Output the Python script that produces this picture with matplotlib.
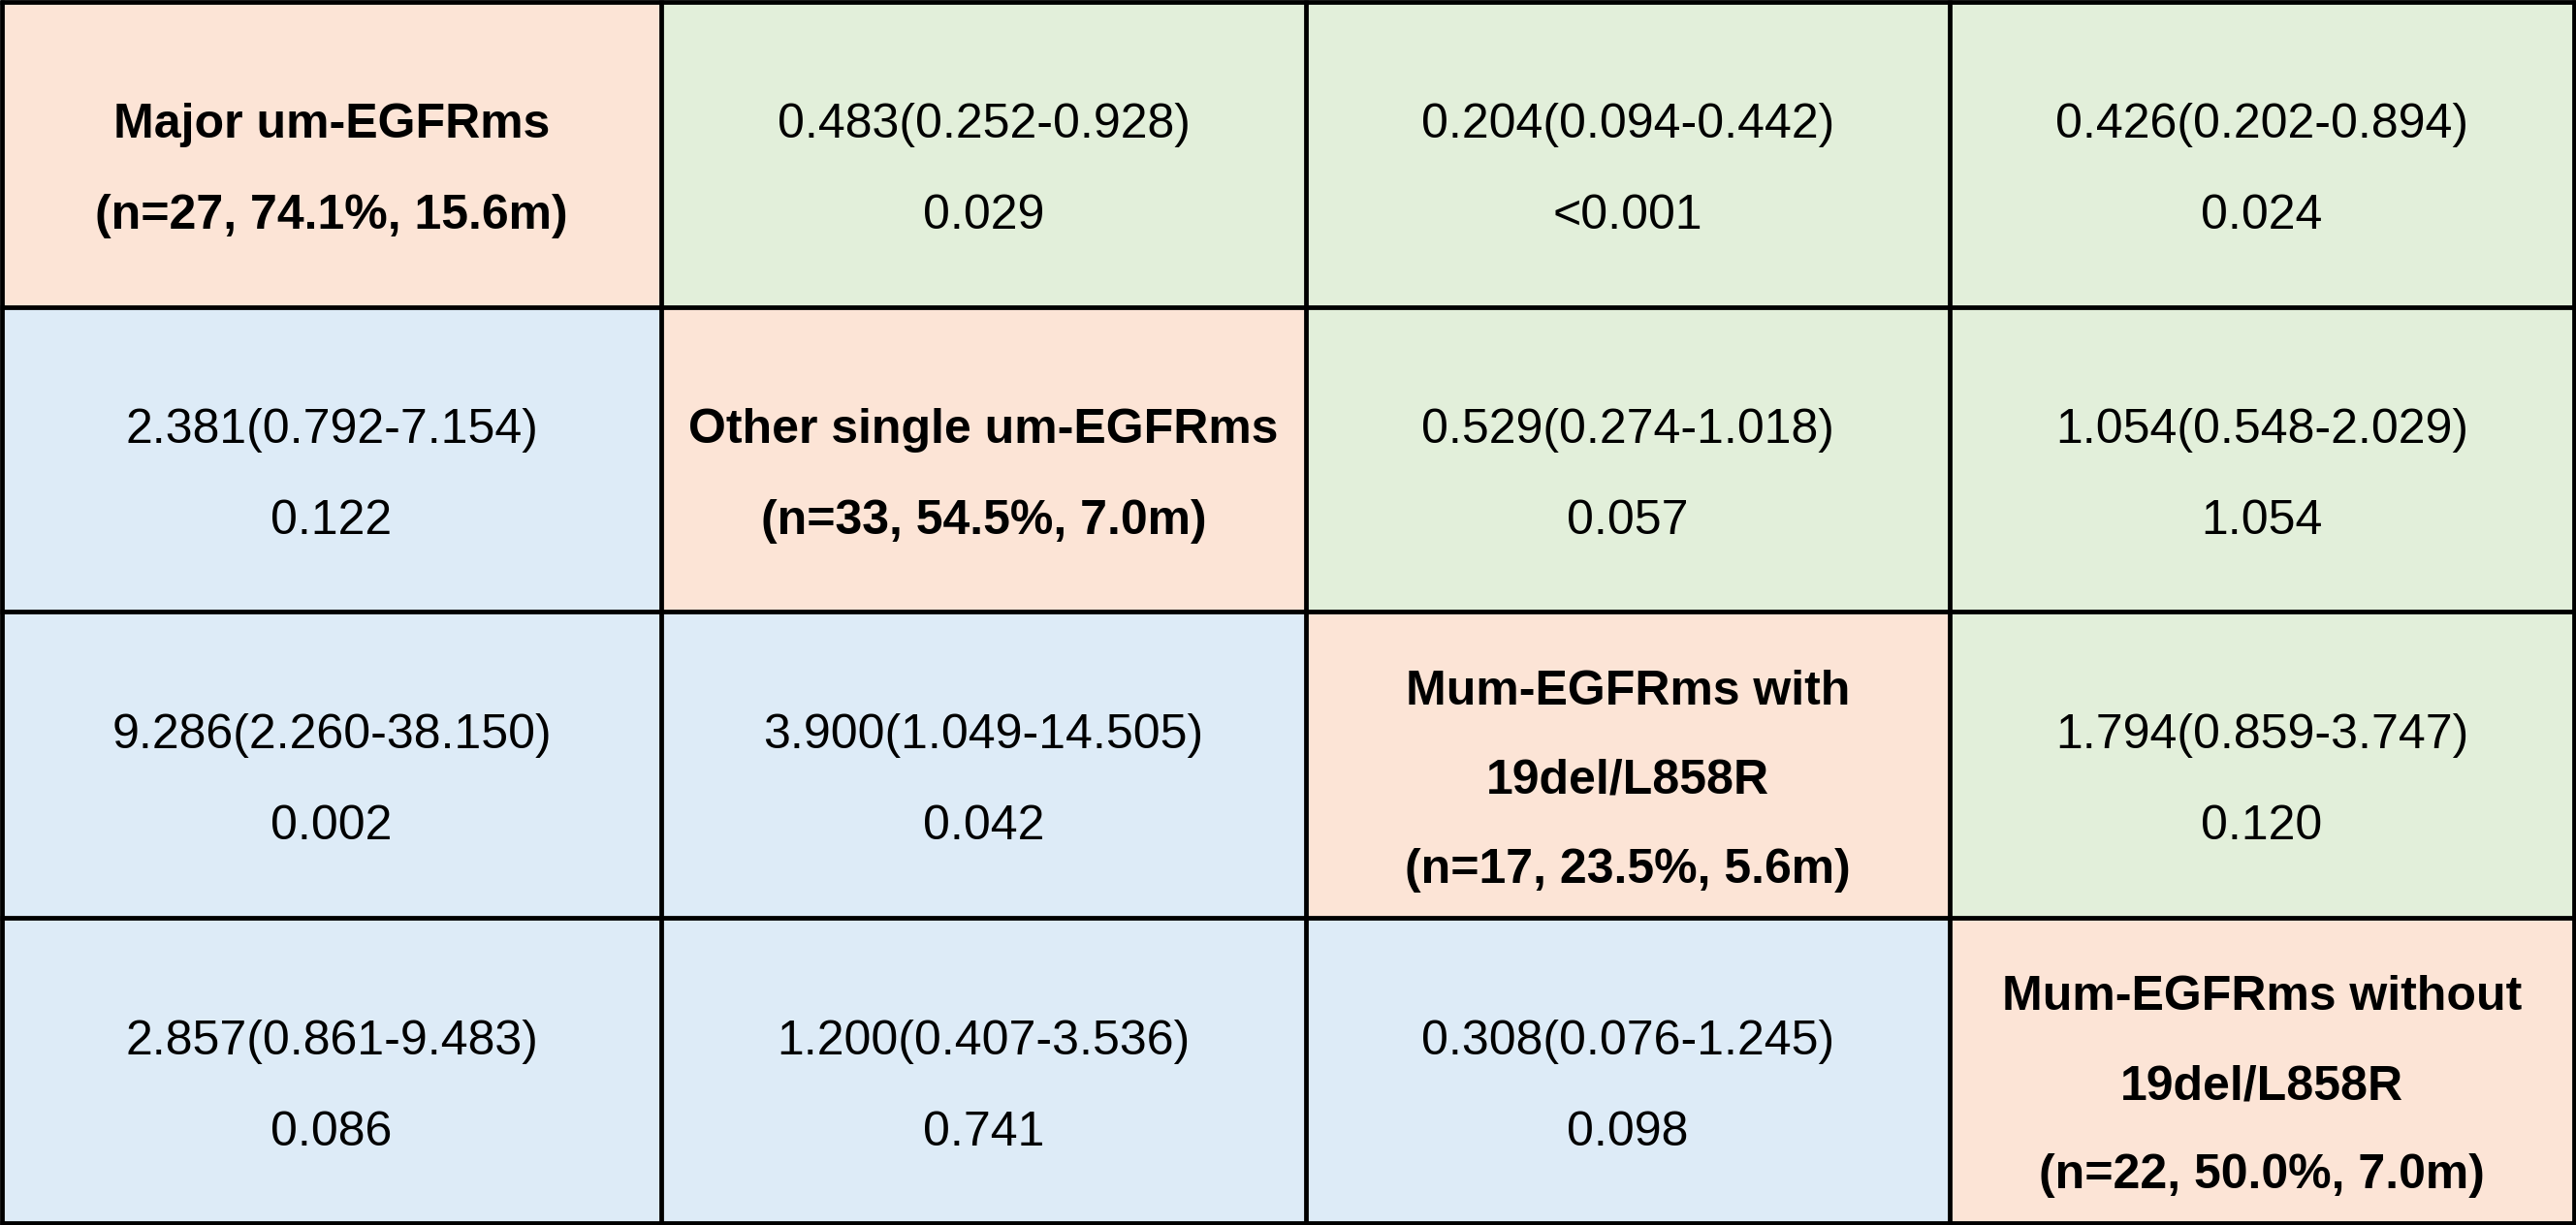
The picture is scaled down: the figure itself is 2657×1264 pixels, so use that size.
import numpy as np
import matplotlib
matplotlib.use('Agg')
import matplotlib.pyplot as plt
from matplotlib.colors import ListedColormap

# group labels shown on the diagonal
group_labels = [
    ['Major um-EGFRms', '(n=27, 74.1%, 15.6m)'],
    ['Other single um-EGFRms', '(n=33, 54.5%, 7.0m)'],
    ['Mum-EGFRms with', '19del/L858R', '(n=17, 23.5%, 5.6m)'],
    ['Mum-EGFRms without', '19del/L858R', '(n=22, 50.0%, 7.0m)'],
]

# hazard ratio (95% CI) for each pair, row vs column
hazard_ratios = [
    [None, '0.483(0.252-0.928)', '0.204(0.094-0.442)', '0.426(0.202-0.894)'],
    ['2.381(0.792-7.154)', None, '0.529(0.274-1.018)', '1.054(0.548-2.029)'],
    ['9.286(2.260-38.150)', '3.900(1.049-14.505)', None, '1.794(0.859-3.747)'],
    ['2.857(0.861-9.483)', '1.200(0.407-3.536)', '0.308(0.076-1.245)', None],
]

# p values for each pair
p_values = [
    [None, '0.029', '<0.001', '0.024'],
    ['0.122', None, '0.057', '1.054'],
    ['0.002', '0.042', None, '0.120'],
    ['0.086', '0.741', '0.098', None],
]

# layout (pixels of the 2657x1264 output)
W, H = 2657, 1264
x_edges = [2, 682, 1347, 2011, 2655]
y_edges = [2, 317, 631, 947, 1262]
line_px = 4.8
dpi = 100
font_size = 36
line_gap = 92
baseline_shift = 30

colors = ListedColormap(['#DDEBF7', '#FCE4D6', '#E2EFDA'])  # lower, diagonal, upper

n = len(group_labels)
kind = np.array([[np.sign(j - i) + 1 for j in range(n)] for i in range(n)])

fig = plt.figure(figsize=(W / dpi, H / dpi), dpi=dpi)
ax = fig.add_axes([0, 0, 1, 1])
ax.set_xlim(0, W)
ax.set_ylim(H, 0)
ax.axis('off')

ax.pcolormesh(x_edges, y_edges, kind, cmap=colors, vmin=0, vmax=2)

lw = line_px * 72 / dpi
ax.vlines(x_edges, y_edges[0] - line_px / 2, y_edges[-1] + line_px / 2, colors='black', linewidth=lw)
ax.hlines(y_edges, x_edges[0] - line_px / 2, x_edges[-1] + line_px / 2, colors='black', linewidth=lw)

plt.rcParams['font.family'] = ['Liberation Sans', 'DejaVu Sans']

for i in range(n):
    for j in range(n):
        if i == j:
            lines = group_labels[i]
            weight = 'bold'
        else:
            lines = [hazard_ratios[i][j], p_values[i][j]]
            weight = 'normal'
        cx = (x_edges[j] + x_edges[j + 1]) / 2
        cy = (y_edges[i] + y_edges[i + 1]) / 2 + baseline_shift
        m = len(lines)
        gap = 94 if m == 2 else line_gap
        for k, line in enumerate(lines):
            y = cy + (k - (m - 1) / 2) * gap
            ax.text(cx, y, line, ha='center', va='baseline', fontsize=font_size,
                    fontweight=weight, color='black')

fig.savefig('out.png', dpi=dpi)
